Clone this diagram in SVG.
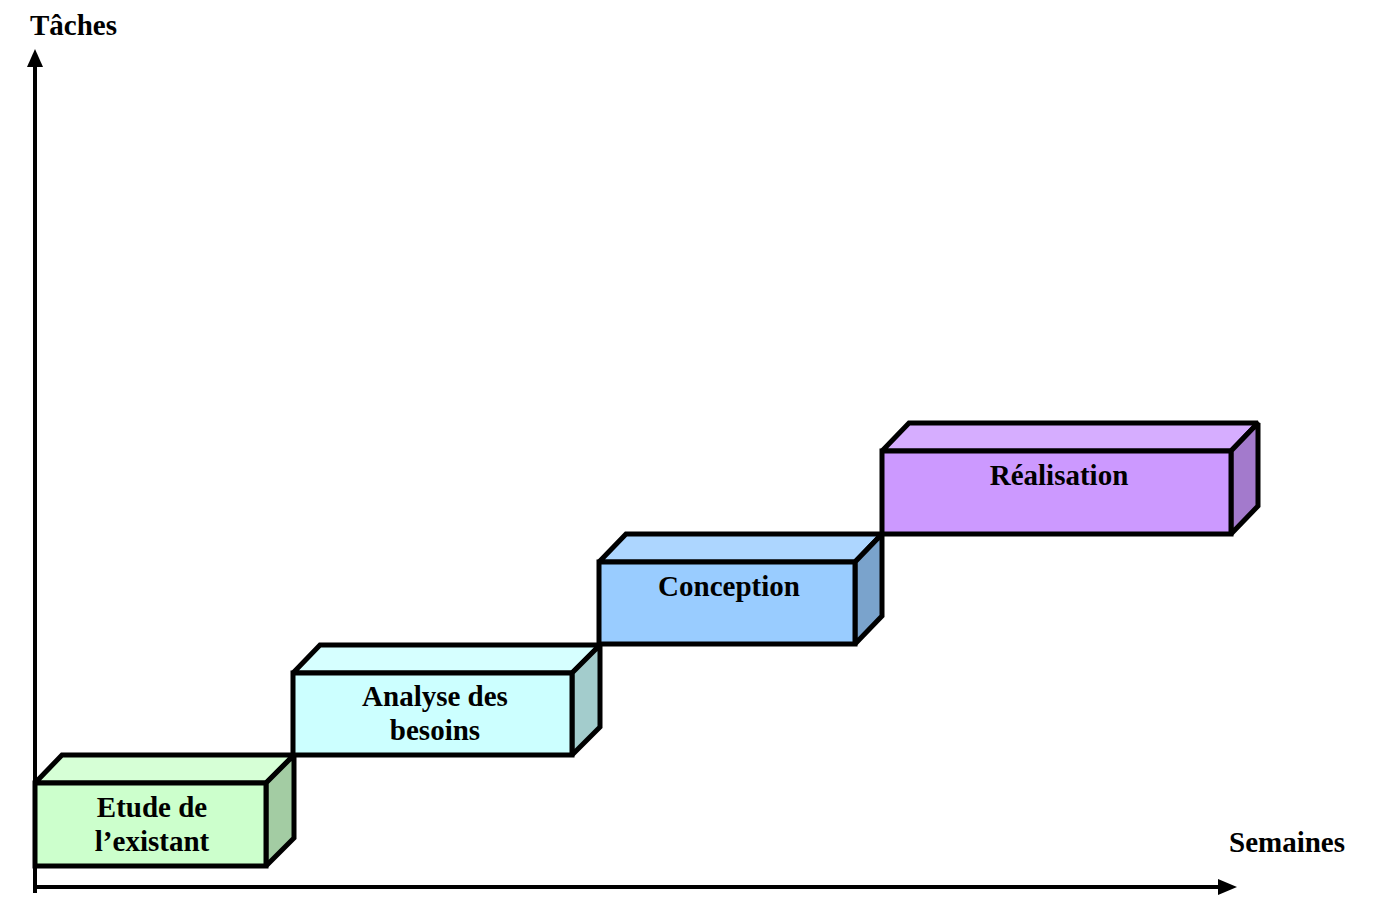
<svg xmlns="http://www.w3.org/2000/svg" width="1379" height="904" viewBox="0 0 1379 904">
<style>
.t{font-family:"Liberation Serif","Times New Roman",serif;font-weight:bold;font-size:29px;fill:#000}
.c{text-anchor:middle}
.s{stroke:#000;stroke-width:5;stroke-linejoin:miter;stroke-miterlimit:2}
.ax{stroke:#000;stroke-width:4;fill:none}
</style>
<rect width="1379" height="904" fill="#fff"/>
<g id="axes">
<line class="ax" x1="35" y1="893" x2="35" y2="62"/>
<polygon points="35,49 27,67 43,67" fill="#000"/>
<line class="ax" x1="33" y1="887" x2="1220" y2="887"/>
<polygon points="1237,887 1218,879 1218,895" fill="#000"/>
<text class="t" x="30" y="35">Tâches</text>
<text class="t" x="1229" y="852">Semaines</text>
</g>
<g id="etude">
<polygon class="s" points="35,783 62,755 294,755 266,783" fill="#D6FFD6"/>
<polygon class="s" points="266,783 294,755 294,838 266,866" fill="#A3CCA3"/>
<rect class="s" x="35" y="783" width="231" height="83" fill="#CCFFCC"/>
<text class="t c" x="152" y="817">Etude de</text>
<text class="t c" x="152" y="851">l’existant</text>
</g>
<g id="analyse">
<polygon class="s" points="293,673 320,645 600,645 572,673" fill="#D6FFFF"/>
<polygon class="s" points="572,673 600,645 600,727 572,755" fill="#A3CCCC"/>
<rect class="s" x="293" y="673" width="279" height="82" fill="#CCFFFF"/>
<text class="t c" x="435" y="706">Analyse des</text>
<text class="t c" x="435" y="740">besoins</text>
</g>
<g id="conception">
<polygon class="s" points="599,562 626,534 882,534 855,562" fill="#ADD6FF"/>
<polygon class="s" points="855,562 882,534 882,616 855,644" fill="#7AA3CC"/>
<rect class="s" x="599" y="562" width="256" height="82" fill="#99CCFF"/>
<text class="t c" x="729" y="596">Conception</text>
</g>
<g id="realisation">
<polygon class="s" points="882,451 909,423 1258,423 1231,451" fill="#D6ADFF"/>
<polygon class="s" points="1231,451 1258,423 1258,506 1231,534" fill="#A37ACC"/>
<rect class="s" x="882" y="451" width="349" height="83" fill="#CC99FF"/>
<text class="t c" x="1059" y="485">Réalisation</text>
</g>
</svg>
